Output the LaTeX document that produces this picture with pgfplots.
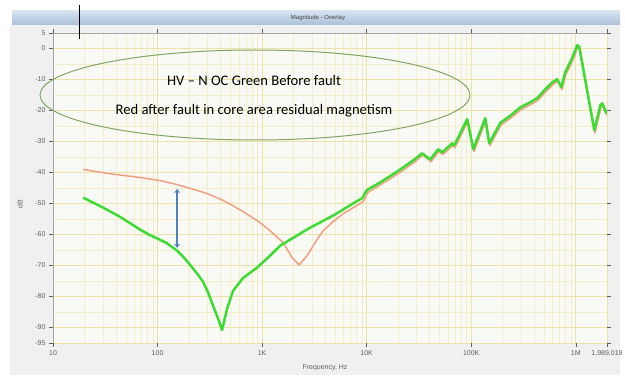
\documentclass[border=0pt]{standalone}
\usepackage{fontspec}
\setmainfont{Liberation Sans}
\newfontfamily\calibri{Carlito}
\usepackage{pgfplots}
\pgfplotsset{compat=1.18}
\usetikzlibrary{arrows.meta}
\definecolor{gline}{RGB}{60,220,50}
\definecolor{rline}{RGB}{240,160,128}
\definecolor{gridmaj}{RGB}{236,226,170}
\definecolor{gridmin}{RGB}{243,237,200}
\definecolor{panel}{RGB}{240,240,240}
\definecolor{plotbg}{RGB}{249,249,246}
\definecolor{ellc}{RGB}{130,165,100}
\definecolor{arrc}{RGB}{79,129,189}
\definecolor{tickc}{RGB}{95,95,95}
\definecolor{bartop}{RGB}{214,226,240}
\definecolor{barbot}{RGB}{170,192,216}
\begin{document}
\begin{tikzpicture}[x=1pt,y=1pt]
\useasboundingbox (0,0) rectangle (625,378);
\fill[white] (0,0) rectangle (625,378);
\fill[panel] (10,3) rectangle (620,353);
\shade[top color=bartop, bottom color=barbot] (12,353) rectangle (620,367);
\node[font=\fontsize{6}{7}\selectfont, text=black!75] at (318,360) {Magnitude - Overlay};
\begin{axis}[
  at={(53pt,35pt)}, anchor=south west,
  scale only axis, width=554pt, height=310pt,
  xmode=log, xmin=10, xmax=1989019, ymin=-95, ymax=5,
  axis background/.style={fill=plotbg},
  axis line style={draw=none},
  xtick={10,100,1000,10000,100000,1000000,1989019},
  xticklabels={10,100,1K,10K,100K,1M,{1,989,019}},
  minor xtick={20,30,40,50,60,70,80,90,200,300,400,500,600,700,800,900,2000,3000,4000,5000,6000,7000,8000,9000,20000,30000,40000,50000,60000,70000,80000,90000,200000,300000,400000,500000,600000,700000,800000,900000},
  ytick={5,0,-10,-20,-30,-40,-50,-60,-70,-80,-90,-95},
  minor ytick={-5,-15,-25,-35,-45,-55,-65,-75,-85},
  grid=both,
  major grid style={draw=gridmaj, line width=0.6pt},
  minor grid style={draw=gridmin, line width=0.5pt},
  tick align=outside,
  major tick length=4pt, minor tick length=0pt,
  tick style={draw=tickc, line width=0.5pt},
  ticklabel style={font=\fontsize{7}{8}\selectfont, text=tickc},
  /pgf/number format/assume math mode=true,
  clip=true,
]
\draw[gray!70, line width=0.6pt] (rel axis cs:0,0) -- (rel axis cs:0,1) -- (rel axis cs:1,1);
\addplot[rline, line width=1.5pt, line join=round] coordinates {
(19.4,-39) (35,-40.4) (68,-41.6) (105.6,-42.6) (154,-43.9) (210,-45.2) (298,-46.8)
(400,-48.6) (527,-50.7) (700,-53.2) (895,-55.5) (1100,-57.8) (1274,-59.7) (1589,-62.6)
(1936,-67.5) (2261,-69.8) (2700,-66.8) (3300,-62) (3835,-58.8) (4800,-55.8) (5954,-53.3)
(8670,-50) (9300,-49.3) (10300,-46.4) (13700,-43.9)
(20400,-40.2) (28300,-36.8) (34500,-34.4) (41200,-36.5) (49100,-33.2) (53600,-34.2)
(66800,-31.3) (69800,-32) (93000,-23.4) (106200,-33.2) (138300,-23.2) (151000,-31.3)
(192600,-24.7) (244000,-22.2) (299300,-19.7) (366000,-18.2) (435400,-16.7) (508000,-14.2)
(605700,-11.6) (675800,-10.6) (738000,-13.2) (806700,-8.3) (940800,-3.7) (1049500,0.6)
(1097000,-0.2) (1527000,-27.2) (1742000,-19) (1824000,-18.4) (1989000,-21.6)};
\addplot[gline, line width=2.5pt, line join=round] coordinates {
(19.4,-48.1) (30,-51.3) (43.8,-54.3) (68,-58.4) (84.7,-60.2) (120,-62.6) (154,-65.2)
(185,-68) (219,-71) (250,-73.5) (272,-75.2) (305,-78.8) (340,-83) (380,-87.2) (414,-90.8)
(440,-87) (462,-84) (527,-78.2) (658,-74) (895,-70.7) (1194,-66.8) (1487,-63.6)
(2000,-61) (2878,-57.8) (4779,-53.9)
(8110,-49.2) (9060,-48.3) (9680,-46.5) (10110,-45.6) (13460,-43.2) (20000,-39.5)
(27860,-36.1) (33960,-33.8) (40530,-35.8) (48320,-32.5) (52750,-33.5) (65770,-30.6)
(68720,-31.3) (91620,-22.8) (104500,-32.5) (136200,-22.5) (148700,-30.6) (189600,-24)
(240000,-21.5) (294600,-19) (360000,-17.5) (428600,-16) (500000,-13.5) (596200,-10.9)
(665200,-9.9) (726400,-12.5) (794000,-7.6) (926000,-3) (1033000,1.1) (1080000,0.5)
(1503000,-26.4) (1715000,-18.3) (1795000,-17.7) (1958000,-20.9)};
\draw[arrc, line width=2.5pt, {Stealth[length=4pt,width=6pt]}-{Stealth[length=4pt,width=6pt]}]
  (axis cs:153.8,-45.3) -- (axis cs:153.8,-64.3);
\end{axis}
\node[rotate=90, font=\fontsize{7}{8}\selectfont, text=tickc] at (20,174) {dB};
\node[font=\fontsize{7}{8}\selectfont, text=tickc] at (325,10) {Frequency, Hz};
\draw[ellc, line width=1pt] (255,283) ellipse [x radius=215, y radius=45];
\node[font=\calibri\fontsize{14.6}{17}\selectfont] at (254,298) {HV – N OC Green Before fault};
\node[font=\calibri\fontsize{14.6}{17}\selectfont] at (254,267) {Red after fault in core area residual magnetism};
\draw[black, line width=0.8pt] (79,339) -- (79,373);
\end{tikzpicture}
\end{document}
